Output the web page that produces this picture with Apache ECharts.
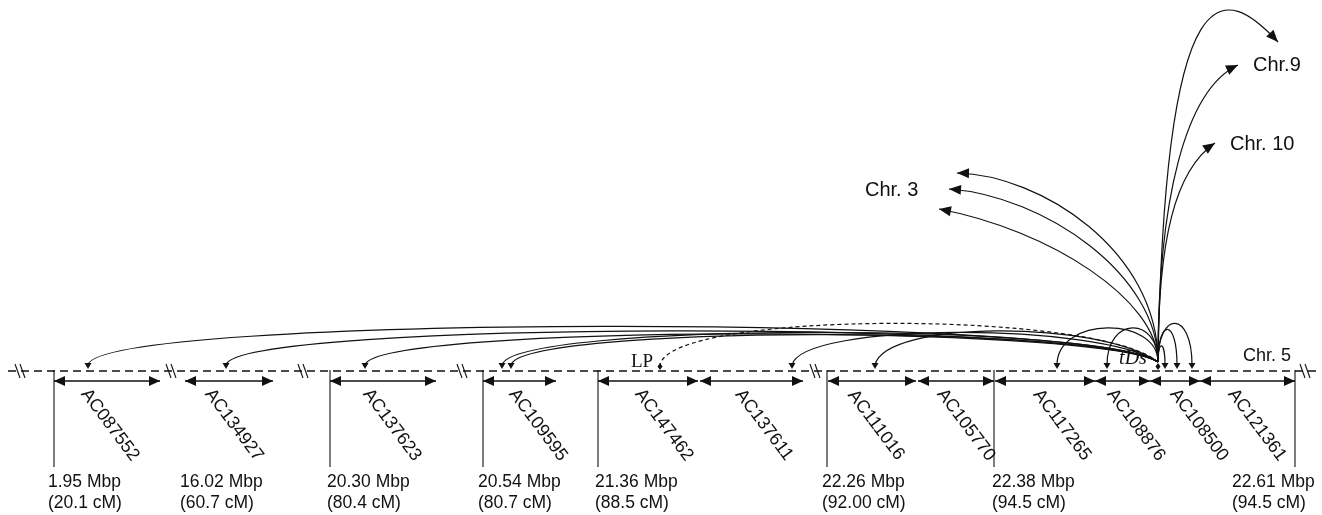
<!DOCTYPE html>
<html><head><meta charset="utf-8">
<script src="https://cdn.jsdelivr.net/npm/echarts/dist/echarts.min.js"></script>
<style>html,body{margin:0;padding:0;background:#fff}#c{width:1322px;height:515px}</style>
</head><body><div id="c"></div>
<script>
// ---------------- data ----------------
const cloneNames  = ['AC087552','AC134927','AC137623','AC109595','AC147462','AC137611','AC111016','AC105770','AC117265','AC108876','AC108500','AC121361'];
const cloneStart  = [54,185,330,483,598,700,828,918,995,1095,1150,1200];
const cloneEnd    = [160,273,436,556,698,803,916,994,1095,1150,1200,1295];
const cloneLabelX = [110,234,392,538,664,764,876,966,1062,1136,1199,1257];
const boundaryX   = [54,330,483,598,827,994,1295];
const breakX      = [20,171,303,462,815,1305];
const posX        = [48,180,327,478,595,822,992,1232];
const posMbp      = ['1.95 Mbp','16.02 Mbp','20.30 Mbp','20.54 Mbp','21.36 Mbp','22.26 Mbp','22.38 Mbp','22.61 Mbp'];
const posCM       = ['(20.1 cM)','(60.7 cM)','(80.4 cM)','(80.7 cM)','(88.5 cM)','(92.00 cM)','(94.5 cM)','(94.5 cM)'];
const chromExtent = [8, 1318];
const tdsSite     = [1158, 362];
// transposition targets on Chr. 5
const targetX     = [88,226,365,502,511,660,792,875,1057,1107,1158,1165,1177,1192];
const targetCtrlY = [314,320,324,322,325,310,322,320,316,316,362,340,318,310];
const targetKind  = ['long','long','long','long','long','dashed','long','long','loop','loop','none','loop','loop','loop'];
const targetHead  = ['tri','tri','tri','tri','tri','diamond','tri','tri','tri','tri','diamond','tri','tri','tri'];
// transpositions to other chromosomes
const interTipX = [957,949,939,1278,1238,1215];
const interTipY = [173,189,209,42,65,143];
const interC1   = [[1158,250],[1158,275],[1158,300],[1165,-40],[1158,200],[1158,240]];
const interC2   = [[1040,175],[1045,196],[1050,230],[1225,-15],[1185,90],[1175,170]];
const chrLabels = ['Chr. 3','Chr.9','Chr. 10','Chr. 5'];
const chrLabelX = [865,1253,1230,1243];
const chrLabelY = [190,65,144,356];
const chrLabelSize = [20,20,20,18];
const markLabels = ['LP','tDs'];
const markLabelX = [642,1133];
const markLabelY = [362,359];

// ---------------- layout constants ----------------
const CHROM_Y = 371, CLONE_Y = 381, BOUND_BOTTOM = 467, LABEL_Y = 425, HEAD_TIP_Y = 369;
const SANS = '"Liberation Sans", Arial, Helvetica, sans-serif';
const SERIF = '"Liberation Serif", "Times New Roman", serif';
const INK = '#111';

function head(tip, from, len, hw) {
  let dx = tip[0]-from[0], dy = tip[1]-from[1];
  const d = Math.hypot(dx,dy) || 1; dx/=d; dy/=d;
  const bx = tip[0]-dx*len, by = tip[1]-dy*len;
  return {type:'polygon', shape:{points:[[tip[0],tip[1]],[bx-dy*hw,by+dx*hw],[bx+dy*hw,by-dx*hw]]}, style:{fill:INK, stroke:null}};
}

const series = [];
// chromosome dashed line
series.push({type:'custom', data:[0], renderItem:(p, api) => {
  const a = api.coord([chromExtent[0], CHROM_Y]), b = api.coord([chromExtent[1], CHROM_Y]);
  return {type:'line', shape:{x1:a[0],y1:a[1],x2:b[0],y2:b[1]}, style:{stroke:INK, lineWidth:1.3, lineDash:[8,5], fill:'none'}};
}});
// break marks
series.push({type:'custom', data:breakX.map(x => [x]), renderItem:(p, api) => {
  const x = api.value(0);
  const ch = [];
  [-2.5, 2.5].forEach(o => {
    const a = api.coord([x+o-2.5, CHROM_Y-7]), b = api.coord([x+o+2.5, CHROM_Y+7]);
    ch.push({type:'line', shape:{x1:a[0],y1:a[1],x2:b[0],y2:b[1]}, style:{stroke:INK, lineWidth:1.1, fill:'none'}});
  });
  return {type:'group', children:ch};
}});
// boundaries
series.push({type:'custom', data:boundaryX.map(x => [x]), renderItem:(p, api) => {
  const a = api.coord([api.value(0), CHROM_Y-1]), b = api.coord([api.value(0), BOUND_BOTTOM]);
  return {type:'line', shape:{x1:a[0],y1:a[1],x2:b[0],y2:b[1]}, style:{stroke:INK, lineWidth:1.1, fill:'none'}};
}});
// clones
series.push({type:'custom', data:cloneStart.map((s, i) => [s, cloneEnd[i], cloneLabelX[i]]), renderItem:(p, api) => {
  const a = api.coord([api.value(0), CLONE_Y]), b = api.coord([api.value(1), CLONE_Y]);
  const c = api.coord([api.value(2), LABEL_Y]);
  return {type:'group', children:[
    {type:'line', shape:{x1:a[0],y1:a[1],x2:b[0],y2:b[1]}, style:{stroke:INK, lineWidth:1.3, fill:'none'}},
    head(a, b, 11, 5), head(b, a, 11, 5),
    {type:'text', x:c[0], y:c[1], rotation:-53*Math.PI/180,
     style:{text:cloneNames[p.dataIndex], fontSize:18, fontFamily:SANS, fill:INK, align:'center', verticalAlign:'middle'}}
  ]};
}});
// position labels
series.push({type:'custom', data:posX.map(x => [x]), renderItem:(p, api) => {
  const a = api.coord([api.value(0), 482]), b = api.coord([api.value(0), 503]);
  return {type:'group', children:[
    {type:'text', x:a[0], y:a[1], style:{text:posMbp[p.dataIndex], fontSize:17.5, fontFamily:SANS, fill:INK, align:'left', verticalAlign:'middle'}},
    {type:'text', x:b[0], y:b[1], style:{text:posCM[p.dataIndex], fontSize:17.5, fontFamily:SANS, fill:INK, align:'left', verticalAlign:'middle'}}
  ]};
}});
// intrachromosomal transposition arcs
series.push({type:'custom', data:targetX.map((x, i) => [x, targetCtrlY[i]]), renderItem:(p, api) => {
  const i = p.dataIndex, tx = api.value(0), cy = api.value(1), kind = targetKind[i];
  const ch = [];
  const tip = api.coord([tx, HEAD_TIP_Y]);
  if (kind !== 'none') {
    const p0 = api.coord(tdsSite);
    const c1 = kind === 'loop' ? api.coord([tdsSite[0], cy]) : api.coord([tdsSite[0]-60, cy]);
    const c2 = kind === 'loop' ? api.coord([tx, cy]) : api.coord([tx+10, cy]);
    const end = api.coord([tx, HEAD_TIP_Y-4]);
    ch.push({type:'bezierCurve', shape:{x1:p0[0],y1:p0[1],x2:end[0],y2:end[1],cpx1:c1[0],cpy1:c1[1],cpx2:c2[0],cpy2:c2[1]},
      style:{stroke:INK, lineWidth:1.2, fill:'none', lineDash: kind === 'dashed' ? [4,3] : null}});
  }
  if (targetHead[i] === 'tri') {
    const up = [tip[0], tip[1]-6];
    ch.push(head(tip, up, 6, 3.5));
  } else {
    ch.push({type:'polygon', shape:{points:[[tip[0],tip[1]+1],[tip[0]-2.5,tip[1]-2.5],[tip[0],tip[1]-6],[tip[0]+2.5,tip[1]-2.5]]}, style:{fill:INK}});
  }
  return {type:'group', children:ch};
}});
// interchromosomal arcs
series.push({type:'custom', data:interTipX.map((x, i) => [x, interTipY[i]]), renderItem:(p, api) => {
  const i = p.dataIndex;
  const p0 = api.coord(tdsSite), c1 = api.coord(interC1[i]), c2 = api.coord(interC2[i]);
  const tip = api.coord([api.value(0), api.value(1)]);
  return {type:'group', children:[
    {type:'bezierCurve', shape:{x1:p0[0],y1:p0[1],x2:tip[0],y2:tip[1],cpx1:c1[0],cpy1:c1[1],cpx2:c2[0],cpy2:c2[1]}, style:{stroke:INK, lineWidth:1.2, fill:'none'}},
    head(tip, c2, 12, 5)
  ]};
}});
// chromosome labels
series.push({type:'custom', data:chrLabelX.map((x, i) => [x, chrLabelY[i]]), renderItem:(p, api) => {
  const a = api.coord([api.value(0), api.value(1)]);
  return {type:'text', x:a[0], y:a[1], style:{text:chrLabels[p.dataIndex], fontSize:chrLabelSize[p.dataIndex], fontFamily:SANS, fill:INK, align:'left', verticalAlign:'middle'}};
}});
// LP / tDs
series.push({type:'custom', data:markLabelX.map((x, i) => [x, markLabelY[i]]), renderItem:(p, api) => {
  const a = api.coord([api.value(0), api.value(1)]);
  const i = p.dataIndex;
  return {type:'text', x:a[0], y:a[1], style:{text:markLabels[i], fontSize: i ? 20 : 19, fontStyle: i ? 'italic' : 'normal', fontFamily:SERIF, fill:INK, align:'center', verticalAlign:'middle'}};
}});

const chart = echarts.init(document.getElementById('c'), null, {renderer:'canvas'});
chart.setOption({
  animation:false,
  grid:{left:0, right:0, top:0, bottom:0},
  xAxis:{type:'value', min:0, max:1322, show:false},
  yAxis:{type:'value', min:0, max:515, inverse:true, show:false},
  series: series.map(s => Object.assign({silent:true, clip:false}, s))
});
</script></body></html>
